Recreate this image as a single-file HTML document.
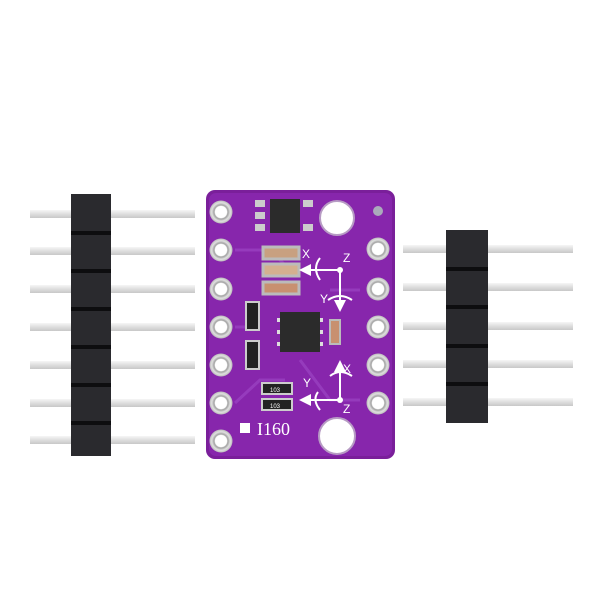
<!DOCTYPE html>
<html><head><meta charset="utf-8"><style>
html,body{margin:0;padding:0;background:#fff;}
</style></head><body>
<svg width="600" height="600" viewBox="0 0 600 600" xmlns="http://www.w3.org/2000/svg" font-family="Liberation Sans, sans-serif">
<defs>
<linearGradient id="pin" x1="0" y1="0" x2="0" y2="1"><stop offset="0" stop-color="#f6f6f6"/><stop offset="0.5" stop-color="#dedede"/><stop offset="1" stop-color="#c8c8c8"/></linearGradient>
<radialGradient id="pad"><stop offset="0.5" stop-color="#fff"/><stop offset="0.6" stop-color="#a0a0a0"/><stop offset="0.8" stop-color="#e0e0e0"/><stop offset="1" stop-color="#bbb"/></radialGradient>
<marker id="ah" markerWidth="6" markerHeight="6" refX="3" refY="3" orient="auto"><path d="M0,0 L6,3 L0,6 z" fill="#fff"/></marker>
</defs>
<rect width="600" height="600" fill="#fff"/>
<g>
<rect x="30" y="210" width="165" height="8" fill="url(#pin)"/>
<rect x="30" y="247" width="165" height="8" fill="url(#pin)"/>
<rect x="30" y="285" width="165" height="8" fill="url(#pin)"/>
<rect x="30" y="323" width="165" height="8" fill="url(#pin)"/>
<rect x="30" y="361" width="165" height="8" fill="url(#pin)"/>
<rect x="30" y="399" width="165" height="8" fill="url(#pin)"/>
<rect x="30" y="436" width="165" height="8" fill="url(#pin)"/>
<rect x="71" y="194" width="40" height="262" fill="#2a2a2e"/>
<g fill="#0d0d0f">
<rect x="71" y="231" width="40" height="4"/><rect x="71" y="269" width="40" height="4"/><rect x="71" y="307" width="40" height="4"/><rect x="71" y="345" width="40" height="4"/><rect x="71" y="383" width="40" height="4"/><rect x="71" y="421" width="40" height="4"/>
</g>
</g>
<g>
<rect x="403" y="245" width="170" height="8" fill="url(#pin)"/>
<rect x="403" y="283" width="170" height="8" fill="url(#pin)"/>
<rect x="403" y="322" width="170" height="8" fill="url(#pin)"/>
<rect x="403" y="360" width="170" height="8" fill="url(#pin)"/>
<rect x="403" y="398" width="170" height="8" fill="url(#pin)"/>
<rect x="446" y="230" width="42" height="193" fill="#2a2a2e"/>
<g fill="#0d0d0f">
<rect x="446" y="267" width="42" height="4"/><rect x="446" y="305" width="42" height="4"/><rect x="446" y="344" width="42" height="4"/><rect x="446" y="382" width="42" height="4"/>
</g>
</g>
<rect x="206" y="190" width="189" height="269" rx="9" fill="#7a1f9a"/>
<rect x="209" y="193" width="183" height="263" rx="7" fill="#8726ac"/>
<g stroke="#9c44c4" stroke-width="3" fill="none" opacity="0.7">
<path d="M235 250 H270 L290 270"/><path d="M235 327 H255"/><path d="M300 360 L330 400 H360"/><path d="M235 403 L260 380 H285"/><path d="M360 290 H330"/>
</g>
<g fill="url(#pad)">
<circle cx="221" cy="212" r="11.5"/><circle cx="221" cy="250" r="11.5"/><circle cx="221" cy="289" r="11.5"/><circle cx="221" cy="327" r="11.5"/><circle cx="221" cy="365" r="11.5"/><circle cx="221" cy="403" r="11.5"/><circle cx="221" cy="441" r="11.5"/>
<circle cx="378" cy="249" r="11.5"/><circle cx="378" cy="289" r="11.5"/><circle cx="378" cy="327" r="11.5"/><circle cx="378" cy="365" r="11.5"/><circle cx="378" cy="403" r="11.5"/>
</g>
<circle cx="337" cy="218" r="17" fill="#fff" stroke="#b79bc4" stroke-width="2"/>
<circle cx="337" cy="436" r="18" fill="#fff" stroke="#b79bc4" stroke-width="2"/>
<circle cx="378" cy="211" r="5" fill="#aab" />
<rect x="270" y="199" width="30" height="34" fill="#2b2b2b"/>
<g fill="#ccc"><rect x="255" y="200" width="10" height="7"/><rect x="255" y="212" width="10" height="7"/><rect x="255" y="224" width="10" height="7"/><rect x="303" y="200" width="10" height="7"/><rect x="303" y="224" width="10" height="7"/></g>
<g><rect x="263" y="247" width="36" height="12" fill="#c8a080" stroke="#bbb" stroke-width="3"/><rect x="263" y="264" width="36" height="12" fill="#d4b090" stroke="#bbb" stroke-width="3"/><rect x="263" y="282" width="36" height="12" fill="#c89070" stroke="#bbb" stroke-width="3"/></g>
<rect x="330" y="320" width="10" height="24" fill="#c89070" stroke="#bbb" stroke-width="2"/>
<g font-size="6" fill="#fff"><rect x="246" y="302" width="13" height="28" fill="#222" stroke="#ccc" stroke-width="2"/><rect x="246" y="341" width="13" height="28" fill="#222" stroke="#ccc" stroke-width="2"/>
<rect x="262" y="383" width="30" height="11" fill="#222" stroke="#ccc" stroke-width="2"/><rect x="262" y="399" width="30" height="11" fill="#222" stroke="#ccc" stroke-width="2"/>
<text x="270" y="392">103</text><text x="270" y="408">103</text></g>
<rect x="280" y="312" width="40" height="40" fill="#2b2b2b"/>
<g fill="#ddd"><rect x="277" y="318" width="3" height="4"/><rect x="277" y="330" width="3" height="4"/><rect x="277" y="342" width="3" height="4"/><rect x="320" y="318" width="3" height="4"/><rect x="320" y="330" width="3" height="4"/><rect x="320" y="342" width="3" height="4"/></g>
<g stroke="#fff" stroke-width="2" fill="none">
<path d="M340 270 H305" marker-end="url(#ah)"/><path d="M340 270 V306" marker-end="url(#ah)"/>
<path d="M320 258 Q312 268 320 280"/><path d="M328 300 Q340 292 352 300"/>
<path d="M340 400 V366" marker-end="url(#ah)"/><path d="M340 400 H305" marker-end="url(#ah)"/>
<path d="M330 376 Q340 368 352 376"/><path d="M318 392 Q312 400 320 410"/>
</g>
<circle cx="340" cy="270" r="3" fill="#fff"/><circle cx="340" cy="400" r="3" fill="#fff"/>
<g fill="#fff" font-size="12"><text x="302" y="258">X</text><text x="343" y="262">Z</text><text x="320" y="303">Y</text><text x="343" y="373">X</text><text x="303" y="387">Y</text><text x="343" y="413">Z</text></g>
<rect x="240" y="423" width="10" height="10" fill="#fff"/>
<text x="257" y="435" fill="#fff" font-size="18" font-family="Liberation Serif, serif">I160</text>
</svg>
</body></html>
